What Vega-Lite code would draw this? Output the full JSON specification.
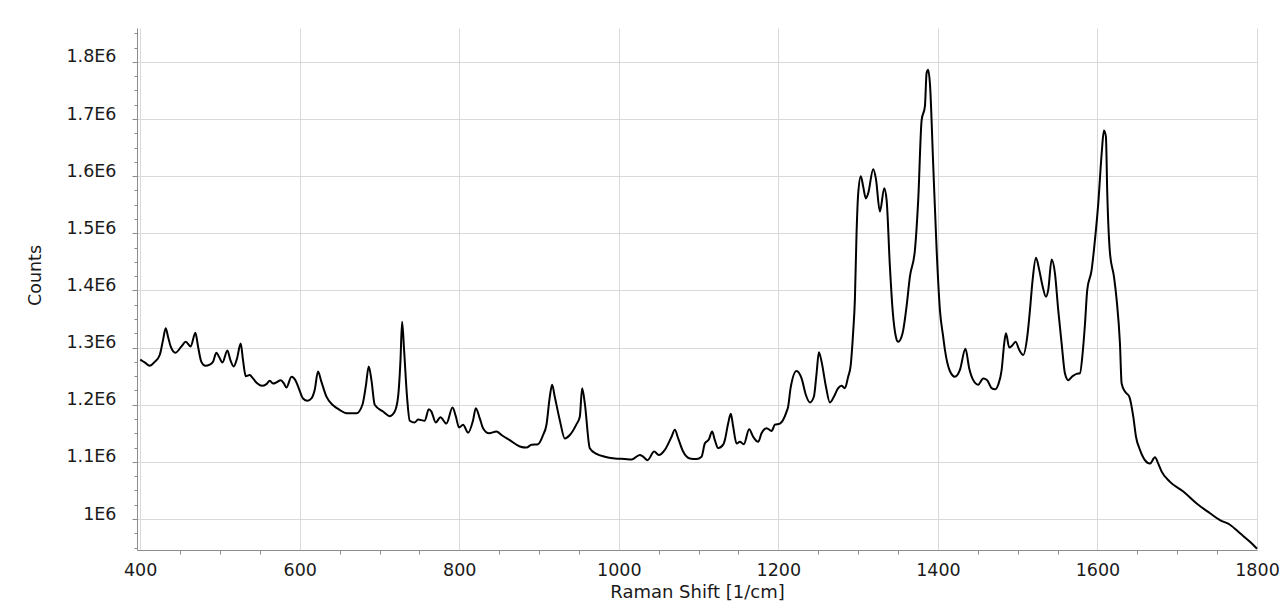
{
  "$schema": "https://vega.github.io/schema/vega-lite/v6.json",
  "width": 1120,
  "height": 522,
  "autosize": {"type": "none"},
  "padding": {"left": 137, "top": 28, "right": 24, "bottom": 55},
  "background": "white",
  "config": {
    "view": {"stroke": null},
    "font": "DejaVu Sans",
    "axis": {
      "labelFont": "DejaVu Sans",
      "titleFont": "DejaVu Sans",
      "labelFontSize": 17.5,
      "titleFontSize": 17.5,
      "titleFontWeight": "normal",
      "labelColor": "#1a1a1a",
      "titleColor": "#1a1a1a",
      "domainColor": "#8c8c8c",
      "tickColor": "#8c8c8c",
      "gridColor": "#d9d9d9",
      "gridWidth": 1
    }
  },
  "data": {
    "values": [
      {"shift": 400, "counts": 1279000},
      {"shift": 405.6, "counts": 1274000},
      {"shift": 411.9, "counts": 1268000},
      {"shift": 418.2, "counts": 1275000},
      {"shift": 424.5, "counts": 1287000},
      {"shift": 428.6, "counts": 1313000},
      {"shift": 432.0, "counts": 1334000},
      {"shift": 434.9, "counts": 1319000},
      {"shift": 438.2, "counts": 1302000},
      {"shift": 444.1, "counts": 1291000},
      {"shift": 451.7, "counts": 1302000},
      {"shift": 457.1, "counts": 1310000},
      {"shift": 463.3, "counts": 1302000},
      {"shift": 469.2, "counts": 1326000},
      {"shift": 472.5, "counts": 1302000},
      {"shift": 476.7, "counts": 1275000},
      {"shift": 481.8, "counts": 1268000},
      {"shift": 487.1, "counts": 1270000},
      {"shift": 491.3, "counts": 1275000},
      {"shift": 495.5, "counts": 1291000},
      {"shift": 498.8, "counts": 1284000},
      {"shift": 503.1, "counts": 1274000},
      {"shift": 509.3, "counts": 1295000},
      {"shift": 513.1, "counts": 1278000},
      {"shift": 517.2, "counts": 1267000},
      {"shift": 521.4, "counts": 1281000},
      {"shift": 526.0, "counts": 1307000},
      {"shift": 528.9, "counts": 1278000},
      {"shift": 532.3, "counts": 1250000},
      {"shift": 537.3, "counts": 1252000},
      {"shift": 541.4, "counts": 1246000},
      {"shift": 547.0, "counts": 1237000},
      {"shift": 552.7, "counts": 1233000},
      {"shift": 558.2, "counts": 1236000},
      {"shift": 562.4, "counts": 1242000},
      {"shift": 566.5, "counts": 1237000},
      {"shift": 570.8, "counts": 1239000},
      {"shift": 576.2, "counts": 1243000},
      {"shift": 580.3, "counts": 1237000},
      {"shift": 583.3, "counts": 1230000},
      {"shift": 589.6, "counts": 1249000},
      {"shift": 594.6, "counts": 1243000},
      {"shift": 598.7, "counts": 1229000},
      {"shift": 604.1, "counts": 1211000},
      {"shift": 609.7, "counts": 1207000},
      {"shift": 614.7, "counts": 1211000},
      {"shift": 618.8, "counts": 1226000},
      {"shift": 622.9, "counts": 1258000},
      {"shift": 627.2, "counts": 1240000},
      {"shift": 633.5, "counts": 1214000},
      {"shift": 641.8, "counts": 1199000},
      {"shift": 650.0, "counts": 1191000},
      {"shift": 658.6, "counts": 1185000},
      {"shift": 671.1, "counts": 1185000},
      {"shift": 678.6, "counts": 1200000},
      {"shift": 682.8, "counts": 1232000},
      {"shift": 686.5, "counts": 1267000},
      {"shift": 689.9, "counts": 1243000},
      {"shift": 694.0, "counts": 1200000},
      {"shift": 704.5, "counts": 1188000},
      {"shift": 712.9, "counts": 1180000},
      {"shift": 719.1, "counts": 1188000},
      {"shift": 723.3, "counts": 1214000},
      {"shift": 726.3, "counts": 1278000},
      {"shift": 728.3, "counts": 1345000},
      {"shift": 730.8, "counts": 1296000},
      {"shift": 734.5, "counts": 1214000},
      {"shift": 737.9, "counts": 1172000},
      {"shift": 744.2, "counts": 1169000},
      {"shift": 748.3, "counts": 1174000},
      {"shift": 756.7, "counts": 1172000},
      {"shift": 761.8, "counts": 1192000},
      {"shift": 765.1, "counts": 1188000},
      {"shift": 770.5, "counts": 1169000},
      {"shift": 776.4, "counts": 1178000},
      {"shift": 783.9, "counts": 1167000},
      {"shift": 791.5, "counts": 1195000},
      {"shift": 795.6, "counts": 1180000},
      {"shift": 799.7, "counts": 1160000},
      {"shift": 804.8, "counts": 1165000},
      {"shift": 811.0, "counts": 1151000},
      {"shift": 817.3, "counts": 1173000},
      {"shift": 820.7, "counts": 1194000},
      {"shift": 825.7, "counts": 1176000},
      {"shift": 829.8, "counts": 1159000},
      {"shift": 837.4, "counts": 1150000},
      {"shift": 846.6, "counts": 1153000},
      {"shift": 852.9, "counts": 1147000},
      {"shift": 863.3, "counts": 1138000},
      {"shift": 875.9, "counts": 1127000},
      {"shift": 884.3, "counts": 1125000},
      {"shift": 890.5, "counts": 1130000},
      {"shift": 898.8, "counts": 1131000},
      {"shift": 905.1, "counts": 1147000},
      {"shift": 909.3, "counts": 1165000},
      {"shift": 913.5, "counts": 1214000},
      {"shift": 916.4, "counts": 1235000},
      {"shift": 919.7, "counts": 1214000},
      {"shift": 926.0, "counts": 1173000},
      {"shift": 932.3, "counts": 1141000},
      {"shift": 938.6, "counts": 1147000},
      {"shift": 947.0, "counts": 1166000},
      {"shift": 951.1, "counts": 1179000},
      {"shift": 954.0, "counts": 1229000},
      {"shift": 957.4, "counts": 1202000},
      {"shift": 963.6, "counts": 1124000},
      {"shift": 972.0, "counts": 1114000},
      {"shift": 982.4, "counts": 1109000},
      {"shift": 995.0, "counts": 1106000},
      {"shift": 1007.5, "counts": 1105000},
      {"shift": 1015.9, "counts": 1104000},
      {"shift": 1026.3, "counts": 1112000},
      {"shift": 1030.5, "counts": 1109000},
      {"shift": 1036.0, "counts": 1103000},
      {"shift": 1044.3, "counts": 1118000},
      {"shift": 1050.1, "counts": 1112000},
      {"shift": 1057.7, "counts": 1121000},
      {"shift": 1066.1, "counts": 1144000},
      {"shift": 1070.2, "counts": 1156000},
      {"shift": 1074.4, "counts": 1141000},
      {"shift": 1080.6, "counts": 1118000},
      {"shift": 1089.0, "counts": 1106000},
      {"shift": 1097.4, "counts": 1105000},
      {"shift": 1103.7, "counts": 1109000},
      {"shift": 1107.8, "counts": 1132000},
      {"shift": 1112.8, "counts": 1139000},
      {"shift": 1117.0, "counts": 1153000},
      {"shift": 1120.4, "counts": 1138000},
      {"shift": 1124.5, "counts": 1124000},
      {"shift": 1130.8, "counts": 1130000},
      {"shift": 1132.9, "counts": 1138000},
      {"shift": 1137.0, "counts": 1167000},
      {"shift": 1140.4, "counts": 1184000},
      {"shift": 1143.3, "counts": 1162000},
      {"shift": 1147.6, "counts": 1132000},
      {"shift": 1151.7, "counts": 1135000},
      {"shift": 1156.7, "counts": 1131000},
      {"shift": 1163.4, "counts": 1157000},
      {"shift": 1168.4, "counts": 1144000},
      {"shift": 1174.7, "counts": 1135000},
      {"shift": 1178.9, "counts": 1150000},
      {"shift": 1185.2, "counts": 1159000},
      {"shift": 1191.5, "counts": 1154000},
      {"shift": 1195.6, "counts": 1165000},
      {"shift": 1201.9, "counts": 1167000},
      {"shift": 1210.3, "counts": 1188000},
      {"shift": 1212.3, "counts": 1197000},
      {"shift": 1215.3, "counts": 1229000},
      {"shift": 1222.8, "counts": 1259000},
      {"shift": 1229.1, "counts": 1246000},
      {"shift": 1234.5, "counts": 1217000},
      {"shift": 1239.5, "counts": 1204000},
      {"shift": 1244.5, "counts": 1214000},
      {"shift": 1247.9, "counts": 1255000},
      {"shift": 1250.8, "counts": 1292000},
      {"shift": 1254.2, "counts": 1275000},
      {"shift": 1259.6, "counts": 1232000},
      {"shift": 1264.6, "counts": 1204000},
      {"shift": 1269.6, "counts": 1214000},
      {"shift": 1275.0, "counts": 1229000},
      {"shift": 1279.2, "counts": 1233000},
      {"shift": 1283.4, "counts": 1229000},
      {"shift": 1287.5, "counts": 1249000},
      {"shift": 1290.5, "counts": 1267000},
      {"shift": 1293.8, "counts": 1328000},
      {"shift": 1295.9, "counts": 1383000},
      {"shift": 1298.0, "counts": 1500000},
      {"shift": 1300.1, "counts": 1570000},
      {"shift": 1303.4, "counts": 1600000},
      {"shift": 1306.3, "counts": 1582000},
      {"shift": 1309.7, "counts": 1561000},
      {"shift": 1312.6, "counts": 1570000},
      {"shift": 1318.9, "counts": 1612000},
      {"shift": 1322.2, "counts": 1596000},
      {"shift": 1327.3, "counts": 1538000},
      {"shift": 1332.7, "counts": 1579000},
      {"shift": 1335.7, "counts": 1558000},
      {"shift": 1339.8, "counts": 1442000},
      {"shift": 1343.2, "counts": 1366000},
      {"shift": 1347.3, "counts": 1319000},
      {"shift": 1350.2, "counts": 1310000},
      {"shift": 1355.7, "counts": 1325000},
      {"shift": 1360.7, "counts": 1372000},
      {"shift": 1364.9, "counts": 1424000},
      {"shift": 1371.2, "counts": 1471000},
      {"shift": 1375.3, "counts": 1558000},
      {"shift": 1379.6, "counts": 1698000},
      {"shift": 1383.7, "counts": 1722000},
      {"shift": 1385.8, "counts": 1780000},
      {"shift": 1387.8, "counts": 1786000},
      {"shift": 1390.0, "counts": 1762000},
      {"shift": 1394.1, "counts": 1620000},
      {"shift": 1398.4, "counts": 1471000},
      {"shift": 1402.5, "counts": 1366000},
      {"shift": 1406.6, "counts": 1319000},
      {"shift": 1408.8, "counts": 1296000},
      {"shift": 1415.0, "counts": 1259000},
      {"shift": 1421.3, "counts": 1249000},
      {"shift": 1427.6, "counts": 1261000},
      {"shift": 1434.5, "counts": 1298000},
      {"shift": 1439.2, "counts": 1264000},
      {"shift": 1444.3, "counts": 1243000},
      {"shift": 1450.5, "counts": 1235000},
      {"shift": 1456.8, "counts": 1246000},
      {"shift": 1461.8, "counts": 1243000},
      {"shift": 1467.3, "counts": 1229000},
      {"shift": 1471.5, "counts": 1227000},
      {"shift": 1475.6, "counts": 1235000},
      {"shift": 1479.9, "counts": 1261000},
      {"shift": 1483.1, "counts": 1307000},
      {"shift": 1485.3, "counts": 1325000},
      {"shift": 1489.4, "counts": 1300000},
      {"shift": 1492.8, "counts": 1303000},
      {"shift": 1497.4, "counts": 1310000},
      {"shift": 1501.9, "counts": 1296000},
      {"shift": 1506.9, "counts": 1287000},
      {"shift": 1512.0, "counts": 1319000},
      {"shift": 1515.4, "counts": 1366000},
      {"shift": 1518.7, "counts": 1418000},
      {"shift": 1522.9, "counts": 1457000},
      {"shift": 1527.0, "counts": 1436000},
      {"shift": 1531.3, "counts": 1407000},
      {"shift": 1535.4, "counts": 1389000},
      {"shift": 1538.3, "counts": 1401000},
      {"shift": 1542.6, "counts": 1454000},
      {"shift": 1546.7, "counts": 1430000},
      {"shift": 1550.8, "counts": 1366000},
      {"shift": 1555.1, "counts": 1307000},
      {"shift": 1559.2, "counts": 1255000},
      {"shift": 1563.4, "counts": 1243000},
      {"shift": 1568.9, "counts": 1250000},
      {"shift": 1573.9, "counts": 1254000},
      {"shift": 1578.0, "counts": 1255000},
      {"shift": 1581.4, "counts": 1290000},
      {"shift": 1584.3, "counts": 1340000},
      {"shift": 1587.2, "counts": 1401000},
      {"shift": 1592.7, "counts": 1436000},
      {"shift": 1595.6, "counts": 1471000},
      {"shift": 1598.1, "counts": 1506000},
      {"shift": 1601.0, "counts": 1552000},
      {"shift": 1605.3, "counts": 1640000},
      {"shift": 1608.1, "counts": 1680000},
      {"shift": 1610.6, "counts": 1669000},
      {"shift": 1612.3, "counts": 1570000},
      {"shift": 1615.7, "counts": 1465000},
      {"shift": 1620.7, "counts": 1424000},
      {"shift": 1624.1, "counts": 1383000},
      {"shift": 1628.2, "counts": 1307000},
      {"shift": 1630.3, "counts": 1237000},
      {"shift": 1634.5, "counts": 1223000},
      {"shift": 1639.9, "counts": 1214000},
      {"shift": 1644.9, "counts": 1179000},
      {"shift": 1648.3, "counts": 1144000},
      {"shift": 1653.3, "counts": 1121000},
      {"shift": 1659.5, "counts": 1103000},
      {"shift": 1665.8, "counts": 1097000},
      {"shift": 1672.1, "counts": 1108000},
      {"shift": 1676.2, "counts": 1097000},
      {"shift": 1680.5, "counts": 1083000},
      {"shift": 1690.9, "counts": 1065000},
      {"shift": 1707.6, "counts": 1048000},
      {"shift": 1724.4, "counts": 1027000},
      {"shift": 1741.1, "counts": 1010000},
      {"shift": 1753.6, "counts": 998000},
      {"shift": 1766.1, "counts": 990000},
      {"shift": 1778.7, "counts": 975000},
      {"shift": 1791.2, "counts": 960000},
      {"shift": 1800, "counts": 948000}
    ]
  },
  "layer": [
    {
      "mark": {"type": "line", "strokeOpacity": 0},
      "encoding": {
        "x": {
          "field": "shift", "type": "quantitative",
          "scale": {"domain": [396, 1800], "nice": false, "zero": false},
          "axis": {"orient": "bottom", "title": null, "labels": false, "grid": false, "domain": false, "tickSize": 4,
                   "values": [450, 500, 550, 650, 700, 750, 850, 900, 950, 1050, 1100, 1150, 1250, 1300, 1350, 1450, 1500, 1550, 1650, 1700, 1750]}
        },
        "y": {
          "field": "counts", "type": "quantitative",
          "scale": {"domain": [945750, 1859250], "nice": false, "zero": false},
          "axis": {"orient": "left", "title": null, "labels": false, "grid": false, "domain": false, "tickSize": 3,
                   "values": [950000, 975000, 1025000, 1050000, 1075000, 1125000, 1150000, 1175000, 1225000, 1250000, 1275000, 1325000, 1350000, 1375000, 1425000, 1450000, 1475000, 1525000, 1550000, 1575000, 1625000, 1650000, 1675000, 1725000, 1750000, 1775000, 1825000, 1850000]}
        }
      }
    },
    {
      "mark": {"type": "line", "color": "#000000", "strokeWidth": 2, "interpolate": "monotone", "strokeJoin": "round"},
      "encoding": {
        "x": {
          "field": "shift", "type": "quantitative",
          "axis": {"orient": "bottom", "title": "Raman Shift [1/cm]", "titleFontSize": 18, "grid": true, "tickSize": 0, "labelPadding": 11,
                   "titlePadding": 5, "labelFlush": false, "labelOverlap": false, "format": "d",
                   "values": [400, 600, 800, 1000, 1200, 1400, 1600, 1800]}
        },
        "y": {
          "field": "counts", "type": "quantitative",
          "axis": {"orient": "left", "title": "Counts", "grid": true, "tickSize": 5, "labelPadding": 16,
                   "labelBaseline": "alphabetic", "labelOverlap": false,
                   "labelExpr": "(datum.value / 1000000) + 'E6'",
                   "titleAngle": -90, "titleAlign": "center", "titleBaseline": "middle", "titleX": -102, "titleY": 247,
                   "values": [1000000, 1100000, 1200000, 1300000, 1400000, 1500000, 1600000, 1700000, 1800000]}
        }
      }
    }
  ],
  "resolve": {"axis": {"x": "independent", "y": "independent"}}
}
